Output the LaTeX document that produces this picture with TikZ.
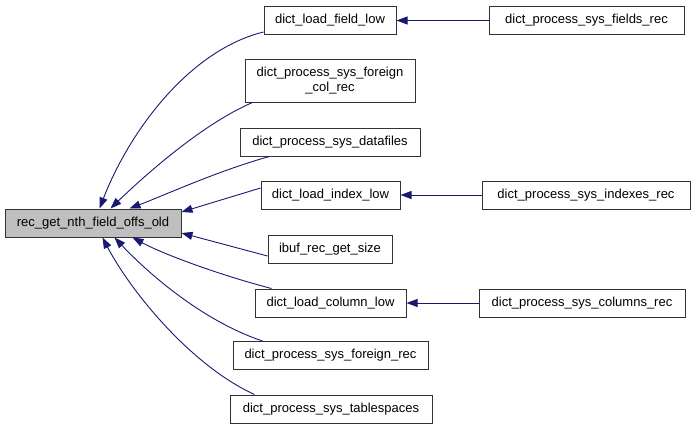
\documentclass[tikz,border=0pt]{standalone}
\usepackage{fontspec}
\setmainfont{Liberation Sans}
\usetikzlibrary{arrows.meta}
\definecolor{edgeblue}{HTML}{191970}
\tikzset{
  fn/.style={draw=black!80, line width=1pt, fill=white, minimum height=28pt, inner sep=0pt, font=\fontsize{13}{15}\selectfont, align=center},
  mainfn/.style={fn, fill=black!25},
  call/.style={draw=edgeblue, line width=0.9pt, -{Triangle[length=11pt,width=8pt]}, fill=none}
}
\begin{document}
\begin{tikzpicture}[x=1pt,y=-1pt]
\useasboundingbox (0,0) rectangle (691,429);
\node[mainfn, minimum width=176pt] (main) at (93,223) {rec\_get\_nth\_field\_offs\_old};
\node[fn, minimum width=132pt] (lf) at (330,20.5) {dict\_load\_field\_low};
\node[fn, minimum width=170pt, minimum height=43pt] (fc) at (330,80.5) {dict\_process\_sys\_foreign\\\_col\_rec};
\node[fn, minimum width=180pt] (df) at (330,142) {dict\_process\_sys\_datafiles};
\node[fn, minimum width=139pt] (li) at (330.5,195) {dict\_load\_index\_low};
\node[fn, minimum width=124pt] (ib) at (330,249) {ibuf\_rec\_get\_size};
\node[fn, minimum width=151pt] (lc) at (330.5,303) {dict\_load\_column\_low};
\node[fn, minimum width=195pt] (fr) at (330.5,355.5) {dict\_process\_sys\_foreign\_rec};
\node[fn, minimum width=202pt] (ts) at (331,409) {dict\_process\_sys\_tablespaces};
\node[fn, minimum width=195pt] (sf) at (586.5,20.5) {dict\_process\_sys\_fields\_rec};
\node[fn, minimum width=208pt] (si) at (586,195) {dict\_process\_sys\_indexes\_rec};
\node[fn, minimum width=206pt] (sc) at (582,303) {dict\_process\_sys\_columns\_rec};

\draw[call] ([yshift=3pt]lf.south west) .. controls (190,50) and (130,130) .. ([xshift=95pt]main.north west);
\draw[call] ([xshift=8pt]fc.south west) .. controls (200,125) and (140,180) .. ([xshift=106pt]main.north west);
\draw[call] ([xshift=30pt]df.south west) .. controls (220,170) and (165,195) .. ([xshift=125pt]main.north west);
\draw[call] ([yshift=7pt]li.west) -- ([yshift=11pt]main.east);
\draw[call] ([yshift=-7pt]ib.west) -- ([yshift=-10pt]main.east);
\draw[call] ([xshift=17pt]lc.north west) .. controls (220,275) and (165,255) .. ([xshift=128pt]main.south west);
\draw[call] ([xshift=30pt]fr.north west) .. controls (200,320) and (145,270) .. ([xshift=110pt]main.south west);
\draw[call] ([xshift=25pt]ts.north west) .. controls (190,365) and (130,290) .. ([xshift=98pt]main.south west);
\draw[call] (sf) -- (lf);
\draw[call] (si) -- (li);
\draw[call] (sc) -- (lc);
\end{tikzpicture}
\end{document}
